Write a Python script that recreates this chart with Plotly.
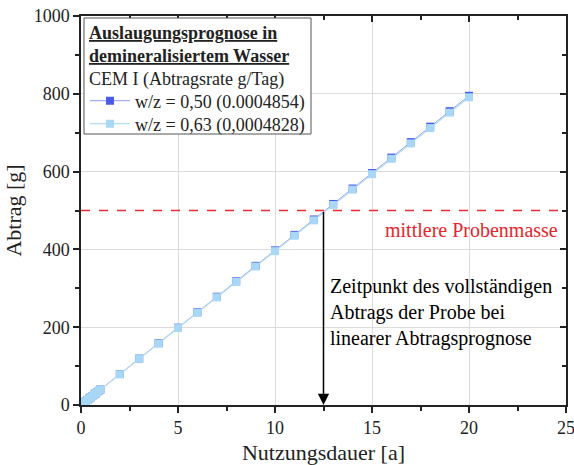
import plotly.graph_objects as go

# Nutzungsdauer in Jahren (monatlich im ersten Jahr, danach jährlich)
jahre = [0, 0.08, 0.17, 0.25, 0.33, 0.42, 0.5, 0.58, 0.67, 0.75, 0.83, 0.92, 1,
         2, 3, 4, 5, 6, 7, 8, 9, 10, 11, 12, 13, 14, 15, 16, 17, 18, 19, 20]

# Abtrag [g], w/z = 0,50
abtrag_050 = [0, 3.2, 6.8, 9.9, 13.1, 16.7, 19.9, 23.1, 26.6, 29.8, 33.0, 36.6, 39.8,
              79.5, 119.3, 159.0, 198.8, 238.5, 278.3, 318.0, 357.8, 397.5, 437.3,
              477.0, 516.8, 556.5, 596.3, 636.0, 675.8, 715.5, 755.3, 795.0]

# Abtrag [g], w/z = 0,63
abtrag_063 = [0, 3.2, 6.7, 9.9, 13.0, 16.6, 19.8, 22.9, 26.5, 29.7, 32.8, 36.4, 39.6,
              79.1, 118.7, 158.2, 197.8, 237.3, 276.9, 316.4, 356.0, 395.5, 435.1,
              474.6, 514.2, 553.7, 593.3, 632.8, 672.4, 711.9, 751.5, 791.0]

probenmasse = 500
zeitpunkt = 12.5

legend_head = ["<b><span style='text-decoration:underline'>Auslaugungsprognose in</span></b>",
               "<b><span style='text-decoration:underline'>demineralisiertem Wasser</span></b>",
               "CEM I (Abtragsrate g/Tag)"]

FONT = "Liberation Serif"
INK = "#222"
W, H = 574, 465
ML, MR, MT, MB = 81, 8, 16, 60
PW, PH = W - ML - MR, H - MT - MB


def px_x(px):
    return (px - ML) / PW


def px_y(py):
    return (H - MB - py) / PH


fig = go.Figure()

fig.add_trace(go.Scatter(
    x=jahre, y=abtrag_050, mode="lines+markers",
    name="w/z = 0,50 (0.0004854)", legend="legend",
    line=dict(color="#8f9cf5", width=1),
    marker=dict(symbol="square", size=8, color="#4a5cf0"),
))
fig.add_trace(go.Scatter(
    x=jahre, y=abtrag_063, mode="lines+markers",
    name="w/z = 0,63 (0,0004828)", legend="legend2",
    line=dict(color="#b5dcf5", width=1.2),
    marker=dict(symbol="square", size=8, color="#a9d8f6"),
))

# Mittlere Probenmasse
fig.add_shape(type="line", xref="paper", x0=0, x1=1, yref="y", y0=probenmasse, y1=probenmasse,
              line=dict(color="#ee2a30", width=1.5, dash="dash"))
fig.add_annotation(x=1, xref="paper", y=probenmasse, yref="y", xanchor="right", yanchor="top",
                   yshift=-6, xshift=-6, showarrow=False, text="mittlere Probenmasse",
                   font=dict(family=FONT, size=20, color="#e8242c"))

# Pfeil zum Zeitpunkt des vollständigen Abtrags
fig.add_annotation(x=zeitpunkt, y=0, ax=zeitpunkt, ay=probenmasse, xref="x", yref="y",
                   axref="x", ayref="y", showarrow=True, arrowhead=2, arrowsize=1.5,
                   arrowwidth=1.5, arrowcolor="black", text="")
fig.add_annotation(x=12.75, y=237, xref="x", yref="y", xanchor="left", yanchor="middle",
                   showarrow=False, align="left",
                   text="Zeitpunkt des vollständigen<br>Abtrags der Probe bei<br>linearer Abtragsprognose",
                   font=dict(family=FONT, size=20, color="black"))

# Legendenrahmen mit Überschrift
fig.add_shape(type="rect", xref="paper", yref="paper",
              x0=px_x(84), x1=px_x(311), y0=px_y(134), y1=px_y(18),
              line=dict(color="#555", width=1), fillcolor="white", layer="above")
for i, line in enumerate(legend_head):
    fig.add_annotation(x=px_x(87), y=px_y(33 + 23 * i), xref="paper", yref="paper",
                       xanchor="left", yanchor="middle", showarrow=False, text=line,
                       font=dict(family=FONT, size=18, color=INK))

legend_common = dict(xanchor="left", yanchor="middle", bgcolor="rgba(0,0,0,0)", borderwidth=0,
                     font=dict(family=FONT, size=18, color=INK), itemwidth=40)

axis_common = dict(showline=True, linecolor=INK, linewidth=1.5, automargin=False,
                   ticklabeloverflow="allow",
                   tickfont=dict(family=FONT, size=18, color=INK))

fig.update_layout(
    width=W, height=H,
    margin=dict(l=ML, r=MR, t=MT, b=MB),
    paper_bgcolor="white", plot_bgcolor="white",
    font=dict(family=FONT, size=18, color=INK),
    showlegend=True,
    legend=dict(x=px_x(85), y=px_y(101), **legend_common),
    legend2=dict(x=px_x(85), y=px_y(124), **legend_common),
    xaxis=dict(range=[0, 25], tickvals=[0, 5, 10, 15, 20, 25], ticks="outside", ticklen=6,
               tickwidth=1.5, tickcolor=INK, showgrid=True, gridcolor="#dcdcdc", gridwidth=1,
               zeroline=False,
               minor=dict(tickvals=[2.5, 7.5, 12.5, 17.5, 22.5], ticks="outside", ticklen=4,
                          tickcolor=INK, showgrid=False),
               title=dict(text="Nutzungsdauer [a]", font=dict(family=FONT, size=22, color=INK),
                          standoff=10),
               **axis_common),
    yaxis=dict(range=[0, 1000], tickvals=[0, 200, 400, 600, 800, 1000], ticks="outside", ticklen=6,
               tickwidth=1.5, tickcolor=INK, showgrid=True, gridcolor="#dcdcdc", gridwidth=1,
               zeroline=False,
               minor=dict(tickvals=[100, 300, 500, 700, 900], ticks="outside", ticklen=4,
                          tickcolor=INK, showgrid=False),
               title=dict(text="Abtrag [g]", font=dict(family=FONT, size=22, color=INK),
                          standoff=6),
               **axis_common),
    xaxis2=dict(range=[0, 25], overlaying="x", side="top", anchor="y", showticklabels=False,
                tickvals=[0, 5, 10, 15, 20, 25], ticks="inside", ticklen=6, tickwidth=1.5,
                tickcolor=INK, showgrid=False, zeroline=False, showline=True,
                linecolor=INK, linewidth=1.5, automargin=False,
                minor=dict(tickvals=[2.5, 7.5, 12.5, 17.5, 22.5], ticks="inside", ticklen=4,
                           tickcolor=INK)),
    yaxis2=dict(range=[0, 1000], overlaying="y", side="right", anchor="x", showticklabels=False,
                tickvals=[0, 200, 400, 600, 800, 1000], ticks="inside", ticklen=6, tickwidth=1.5,
                tickcolor=INK, showgrid=False, zeroline=False, showline=True,
                linecolor=INK, linewidth=1.5, automargin=False,
                minor=dict(tickvals=[100, 300, 500, 700, 900], ticks="inside", ticklen=4,
                           tickcolor=INK)),
)

# Unsichtbare Hilfsspur, damit die gespiegelten Achsen gezeichnet werden
fig.add_trace(go.Scatter(x=[None], y=[None], xaxis="x2", yaxis="y2", showlegend=False,
                         hoverinfo="skip"))

fig.write_html("out.html")
